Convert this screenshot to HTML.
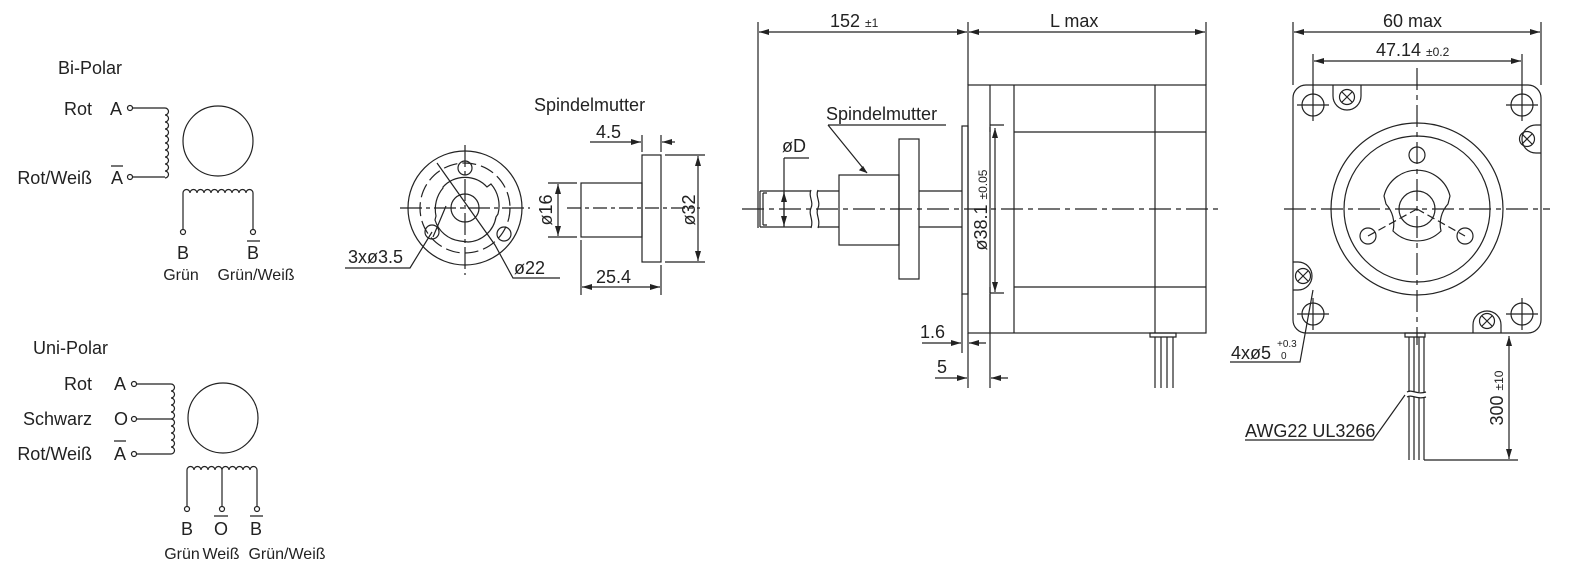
<!DOCTYPE html>
<html><head><meta charset="utf-8"><style>
html,body{margin:0;padding:0;background:#fff;}
svg{display:block}
text{font-family:"Liberation Sans",sans-serif;fill:#222}
</style></head><body>
<svg width="1574" height="580" viewBox="0 0 1574 580" xmlns="http://www.w3.org/2000/svg">
<defs>
<marker id="ar" viewBox="0 0 10 6" refX="10" refY="3" markerWidth="10" markerHeight="6" orient="auto-start-reverse" markerUnits="userSpaceOnUse"><path d="M0 0L10 3L0 6z" fill="#222"/></marker>
</defs>
<g stroke="#222" fill="none" stroke-width="1.2">
<circle cx="130" cy="108" r="2.5"/><circle cx="130" cy="177" r="2.5"/>
<path d="M132.5 108H165M132.5 177H165"/>
<path d="M165 108a3.5 3.5 0 0 1 0 7a3.5 3.5 0 0 1 0 7a3.5 3.5 0 0 1 0 7a3.5 3.5 0 0 1 0 7a3.5 3.5 0 0 1 0 7a3.5 3.5 0 0 1 0 7a3.5 3.5 0 0 1 0 7a3.5 3.5 0 0 1 0 7a3.5 3.5 0 0 1 0 7a3.5 3.5 0 0 1 0 7"/>
<circle cx="218" cy="141" r="35"/>
<path d="M183 193a3.5 3.5 0 0 1 7 0a3.5 3.5 0 0 1 7 0a3.5 3.5 0 0 1 7 0a3.5 3.5 0 0 1 7 0a3.5 3.5 0 0 1 7 0a3.5 3.5 0 0 1 7 0a3.5 3.5 0 0 1 7 0a3.5 3.5 0 0 1 7 0a3.5 3.5 0 0 1 7 0a3.5 3.5 0 0 1 7 0"/>
<path d="M183 193V229M253 193V229"/>
<circle cx="183" cy="232" r="2.5"/><circle cx="253" cy="232" r="2.5"/>
<path d="M247 241h13M111 166h12"/>
<circle cx="134" cy="384" r="2.5"/><circle cx="134" cy="419" r="2.5"/><circle cx="134" cy="454" r="2.5"/>
<path d="M136.5 384H171M136.5 419H171M136.5 454H171"/>
<path d="M171 384a3.5 3.5 0 0 1 0 7a3.5 3.5 0 0 1 0 7a3.5 3.5 0 0 1 0 7a3.5 3.5 0 0 1 0 7a3.5 3.5 0 0 1 0 7a3.5 3.5 0 0 1 0 7a3.5 3.5 0 0 1 0 7a3.5 3.5 0 0 1 0 7a3.5 3.5 0 0 1 0 7a3.5 3.5 0 0 1 0 7"/>
<circle cx="223" cy="418" r="35"/>
<path d="M187 470a3.5 3.5 0 0 1 7 0a3.5 3.5 0 0 1 7 0a3.5 3.5 0 0 1 7 0a3.5 3.5 0 0 1 7 0a3.5 3.5 0 0 1 7 0a3.5 3.5 0 0 1 7 0a3.5 3.5 0 0 1 7 0a3.5 3.5 0 0 1 7 0a3.5 3.5 0 0 1 7 0a3.5 3.5 0 0 1 7 0"/>
<path d="M187 470V506M222 470V506M257 470V506"/>
<circle cx="187" cy="509" r="2.5"/><circle cx="222" cy="509" r="2.5"/><circle cx="257" cy="509" r="2.5"/>
<path d="M214 516h14M250 516h13M114 441h12"/>

<circle cx="465" cy="208" r="57"/>
<circle cx="465" cy="208" r="45" stroke-dasharray="14 5"/>
<circle cx="465" cy="208" r="14"/>
<path d="M443 187a30 30 0 0 1 44 0l4 -3a33 33 0 0 1 7 30l-2 3a30 30 0 0 1 -28 25l-8 -1a30 30 0 0 1 -25 -21l1 -4a33 33 0 0 1 7 -28z"/>
<circle cx="465" cy="168" r="7"/><circle cx="432" cy="232" r="7"/><circle cx="504" cy="234" r="7"/>
<path d="M400 208H530M465 145V275" stroke-dasharray="22 4 4 4"/>
<path d="M437 163L495 245L513 278H560M433 237L446 206M432 232L410 268L345 268"/>
<rect x="581" y="183" width="61" height="54"/>
<rect x="642" y="155" width="19" height="107"/>
<path d="M567 208H700" stroke-dasharray="14 4 4 4"/>
<path d="M548 183H577M548 237H577M665 155H705M665 262H705"/>
<path d="M558 184V236" marker-start="url(#ar)" marker-end="url(#ar)"/>
<path d="M698 156V261" marker-start="url(#ar)" marker-end="url(#ar)"/>
<path d="M642 135V152M661 135V152M581 240V295M661 265V295"/>
<path d="M590 142H641" marker-end="url(#ar)"/><path d="M675 142H662" marker-end="url(#ar)"/>
<path d="M582 287H660" marker-start="url(#ar)" marker-end="url(#ar)"/>

<path d="M758 22V228M968 22V85M1206 22V85"/>
<path d="M759 32H967" marker-start="url(#ar)" marker-end="url(#ar)"/>
<path d="M969 32H1205" marker-start="url(#ar)" marker-end="url(#ar)"/>
<rect x="968" y="85" width="238" height="248"/>
<path d="M990 85V332M1014 85V333M1155 85V333M1014 132H1206M1014 287H1206"/>
<rect x="962" y="126" width="6" height="168"/>
<path d="M760 191H811M760 227H811M818 191H839M818 227H839M919 191H962M919 227H962M760 191V227"/>
<path d="M763 193V225M763 193h4M763 225h4"/>
<path d="M811 190c-3 6 3 12 0 18c-3 6 3 12 0 20M818 190c-3 6 3 12 0 18c-3 6 3 12 0 20"/>
<rect x="839" y="175" width="60" height="70"/>
<rect x="899" y="139" width="20" height="140"/>
<path d="M742 209H1220" stroke-dasharray="22 5 5 5"/>
<path d="M784 158H809M784 158V227"/>
<path d="M784 192V226" marker-start="url(#ar)" marker-end="url(#ar)"/>
<path d="M828 125H946M828 125L867 173" />
<path d="M866 172l-6 -2l3 -3z" fill="#222"/>
<path d="M990 127V132M990 287V293M990 125h14M990 293h14"/>
<path d="M995 128V292" marker-start="url(#ar)" marker-end="url(#ar)"/>
<path d="M962 294V353M968 333V388M990 294V388"/>
<path d="M922 343H961" marker-end="url(#ar)"/><path d="M986 343H969" marker-end="url(#ar)"/>
<path d="M935 378H967" marker-end="url(#ar)"/><path d="M1008 378H991" marker-end="url(#ar)"/>
<path d="M1150 333h26v4h-26zM1155 337V388M1161 337V388M1167 337V388M1173 337V388"/>

<path d="M1293 22V85M1541 22V85M1313 54V95M1522 54V95"/>
<path d="M1294 32H1540" marker-start="url(#ar)" marker-end="url(#ar)"/>
<path d="M1314 61H1521" marker-start="url(#ar)" marker-end="url(#ar)"/>
<path d="M1306 85H1528a13 13 0 0 1 13 13V320a13 13 0 0 1 -13 13H1306a13 13 0 0 1 -13 -13V98a13 13 0 0 1 13 -13z"/>
<circle cx="1417" cy="209" r="86"/><circle cx="1417" cy="209" r="73"/>
<circle cx="1417" cy="209" r="18"/>
<circle cx="1417" cy="155" r="8"/><circle cx="1368" cy="236" r="8"/><circle cx="1465" cy="236" r="8"/>
<path d="M1384 196a34 34 0 0 1 66 0l-2 8a30 30 0 0 0 -7 27a34 34 0 0 1 -48 0a30 30 0 0 0 -7 -27z"/>
<circle cx="1313" cy="105" r="11"/><circle cx="1522" cy="105" r="11"/><circle cx="1313" cy="314" r="11"/><circle cx="1522" cy="314" r="11"/>
<path d="M1297 105h32M1313 89v32M1506 105h32M1522 89v32M1297 314h32M1313 298v32M1506 314h32M1522 298v32"/>
<path d="M1284 209H1550M1417 68V345" stroke-dasharray="22 5 5 5"/>
<path d="M1417 209L1368 236M1417 209L1465 236" stroke-dasharray="8 4"/>
<path d="M1333 85V96a14 14 0 0 0 28 0V85M1541 125h-5a14 14 0 0 0 0 28h5M1293 262h5a14 14 0 0 1 0 28h-5M1473 333v-8a14 14 0 0 1 28 0v8"/>
<circle cx="1347" cy="97" r="7.5"/><circle cx="1527" cy="139" r="7.5"/><circle cx="1303" cy="276" r="7.5"/><circle cx="1487" cy="321" r="7.5"/>
<path d="M1342 92l10 10M1352 92l-10 10M1522 134l10 10M1532 134l-10 10M1298 271l10 10M1308 271l-10 10M1482 316l10 10M1492 316l-10 10"/>
<path d="M1313 290L1300 362L1230 362"/>
<path d="M1405 333h20v4h-20zM1409 337V392M1414 337V392M1419 337V392M1424 337V392M1409 397V460M1414 397V460M1419 397V460M1424 397V460"/>
<path d="M1407 392c5 -3 10 3 19 0M1407 397c5 -3 10 3 19 0"/>
<path d="M1424 460H1518"/>
<path d="M1509 336V459" marker-start="url(#ar)" marker-end="url(#ar)"/>
<path d="M1245 440H1373L1405 395"/>
</g>
<g font-size="18">
<text x="58" y="74">Bi-Polar</text>
<text x="92" y="115" text-anchor="end">Rot</text>
<text x="110" y="115">A</text>
<text x="92" y="184" text-anchor="end">Rot/Weiß</text>
<text x="111" y="184">A</text>
<text x="177" y="259">B</text>
<text x="247" y="259">B</text>
<text x="181" y="280" text-anchor="middle" font-size="16">Grün</text>
<text x="256" y="280" text-anchor="middle" font-size="16">Grün/Weiß</text>
<text x="33" y="354">Uni-Polar</text>
<text x="92" y="390" text-anchor="end">Rot</text>
<text x="114" y="390">A</text>
<text x="92" y="425" text-anchor="end">Schwarz</text>
<text x="114" y="425">O</text>
<text x="92" y="460" text-anchor="end">Rot/Weiß</text>
<text x="114" y="460">A</text>
<text x="181" y="535">B</text>
<text x="214" y="535">O</text>
<text x="250" y="535">B</text>
<text x="182" y="559" text-anchor="middle" font-size="16">Grün</text>
<text x="221" y="559" text-anchor="middle" font-size="16">Weiß</text>
<text x="287" y="559" text-anchor="middle" font-size="16">Grün/Weiß</text>
<text x="534" y="111">Spindelmutter</text>
<text x="596" y="138">4.5</text>
<text x="549" y="213" transform="rotate(-90 549 210)" text-anchor="middle">ø16</text>
<text x="692" y="213" transform="rotate(-90 692 210)" text-anchor="middle">ø32</text>
<text x="348" y="263">3xø3.5</text>
<text x="514" y="274">ø22</text>
<text x="596" y="283">25.4</text>
<text x="830" y="27">152 <tspan font-size="12">±1</tspan></text>
<text x="1050" y="27">L max</text>
<text x="826" y="120">Spindelmutter</text>
<text x="782" y="152">øD</text>
<text x="987" y="210" transform="rotate(-90 987 210)" text-anchor="middle">ø38.1 <tspan font-size="12">±0.05</tspan></text>
<text x="920" y="338">1.6</text>
<text x="937" y="373">5</text>
<text x="1383" y="27">60 max</text>
<text x="1376" y="56">47.14 <tspan font-size="12">±0.2</tspan></text>
<text x="1231" y="359">4xø5</text>
<text x="1277" y="347" font-size="10">+0.3</text>
<text x="1281" y="359" font-size="10">0</text>
<text x="1245" y="437">AWG22 UL3266</text>
<text x="1503" y="398" transform="rotate(-90 1503 398)" text-anchor="middle">300 <tspan font-size="12">±10</tspan></text>
</g>
</svg>
</body></html>
